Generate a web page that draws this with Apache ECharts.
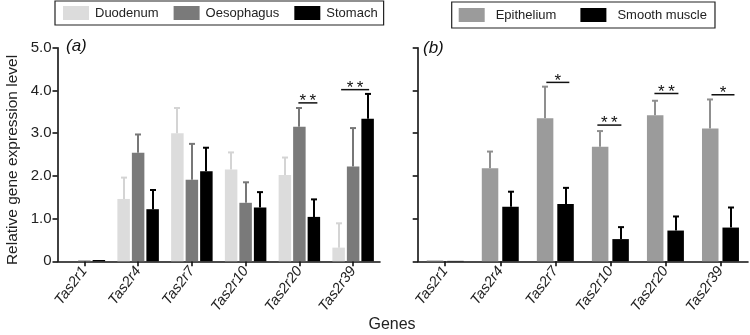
<!DOCTYPE html>
<html>
<head>
<meta charset="utf-8">
<script src="https://cdn.jsdelivr.net/npm/echarts@6/dist/echarts.min.js"></script>
<style>html,body{margin:0;padding:0;background:#fff;}#c{width:750px;height:335px;}</style>
</head>
<body>
<div id="c"></div>
<script>
// ---- data ----
const categories = ['Tas2r1', 'Tas2r4', 'Tas2r7', 'Tas2r10', 'Tas2r20', 'Tas2r39'];
const duodenum      = [0.00, 1.46, 3.00, 2.15, 2.02, 0.32];
const duodenumErr   = [0.00, 0.50, 0.59, 0.40, 0.41, 0.57];
const oesophagus    = [0.02, 2.54, 1.91, 1.37, 3.15, 2.22];
const oesophagusErr = [0.00, 0.43, 0.84, 0.48, 0.44, 0.90];
const stomach       = [0.03, 1.22, 2.11, 1.26, 1.04, 3.34];
const stomachErr    = [0.00, 0.45, 0.55, 0.36, 0.41, 0.58];
const epithelium    = [0.02, 2.18, 3.35, 2.68, 3.42, 3.11];
const epitheliumErr = [0.00, 0.39, 0.74, 0.37, 0.34, 0.68];
const smoothMuscle    = [0.01, 1.28, 1.34, 0.52, 0.72, 0.79];
const smoothMuscleErr = [0.00, 0.35, 0.38, 0.28, 0.33, 0.47];
const yTicks = [0, 1, 2, 3, 4, 5];
// significance annotations: category index, bracket level, mark
const sigA = [[4, 3.71, '**'], [5, 4.02, '**']];
const sigB = [[2, 4.19, '*'], [3, 3.19, '**'], [4, 3.93, '**'], [5, 3.90, '*']];

// ---- layout / styling ----
const sigSpanA = [[-1, 18], [-12, 16]];
const sigSpanB = [[-9, 14], [-13, 11], [-11, 13], [-9, 14]];
const FONT = 'Liberation Sans, Arial, sans-serif';
const chart = echarts.init(document.getElementById('c'), null, {renderer: 'canvas'});

function errSeries(name, vals, errs, gridIdx, idx, n, bw, gap, color) {
  const step = bw * (1 + gap);
  const off = (idx - (n - 1) / 2) * step;
  return {
    type: 'custom', name: name + '_err', xAxisIndex: gridIdx, yAxisIndex: gridIdx, z: 5,
    silent: true,
    data: vals.map((v, i) => [i, v, errs[i]]),
    renderItem: function (params, api) {
      const i = api.value(0), v = api.value(1), e = api.value(2);
      if (!(e > 0)) return null;
      const p0 = api.coord([i, v]);
      const p1 = api.coord([i, v + e]);
      const x = Math.round(p0[0] + off);
      return {
        type: 'group',
        children: [
          {type: 'line', shape: {x1: x, y1: p0[1], x2: x, y2: p1[1]}, style: {stroke: color, lineWidth: 2}},
          {type: 'line', shape: {x1: x - 3, y1: p1[1], x2: x + 3, y2: p1[1]}, style: {stroke: color, lineWidth: 2}}
        ]
      };
    }
  };
}

function sigSeries(list, spans, gridIdx) {
  return {
    type: 'custom', name: 'sig' + gridIdx, xAxisIndex: gridIdx, yAxisIndex: gridIdx, z: 6, silent: true,
    data: list.map(d => [d[0], d[1]]),
    renderItem: function (params, api) {
      const k = params.dataIndex;
      const p = api.coord([api.value(0), api.value(1)]);
      const s = spans[k];
      const x1 = p[0] + s[0], x2 = p[0] + s[1];
      return {
        type: 'group',
        children: [
          {type: 'line', shape: {x1: x1, y1: p[1], x2: x2, y2: p[1]}, style: {stroke: '#111', lineWidth: 1.5}},
          {type: 'text', style: {text: list[k][2].split('').join('\u2009'), x: (x1 + x2) / 2, y: p[1] + 7, align: 'center', verticalAlign: 'bottom',
            font: '17px ' + FONT, fill: '#111'}}
        ]
      };
    }
  };
}

const gridTop = 47.8, gridH = 213.5;
const axisLineStyle = {color: '#111', width: 1.6};

function yAxis(gridIdx, showLabels) {
  return {
    type: 'value', gridIndex: gridIdx, min: yTicks[0], max: yTicks[yTicks.length - 1], interval: 1,
    axisLine: {show: true, lineStyle: axisLineStyle},
    axisTick: {show: true, length: 5, lineStyle: {color: '#111', width: 1.6}},
    splitLine: {show: false},
    axisLabel: {show: showLabels, margin: 6, color: '#222', fontSize: 15, fontFamily: FONT,
      formatter: v => v === 0 ? '0' : v.toFixed(1)}
  };
}
function xAxis(gridIdx) {
  return {
    type: 'category', gridIndex: gridIdx, data: categories,
    axisLine: {show: true, lineStyle: axisLineStyle},
    axisTick: {show: true, alignWithLabel: true, length: 5, lineStyle: {color: '#111', width: 1.6}},
    axisLabel: {rotate: 53, margin: 7, color: '#222', fontSize: 14.5, fontStyle: 'italic', fontFamily: FONT, interval: 0}
  };
}

const bwA = 12.5, gapA = 0.16, bwB = 16.5, gapB = 0.24;
function bar(name, data, gridIdx, color, bw, gap) {
  return {type: 'bar', name: name, xAxisIndex: gridIdx, yAxisIndex: gridIdx, data: data,
    barWidth: bw, barGap: (gap * 100) + '%', itemStyle: {color: color}, silent: true, z: 3};
}

const colD = '#dcdcdc', colO = '#7a7a7a', colS = '#000000', colE = '#9b9b9b', colM = '#000000';

const option = {
  animation: false,
  backgroundColor: '#fff',
  textStyle: {fontFamily: FONT},
  grid: [
    {left: 57.5, top: gridTop, width: 322.5, height: gridH},
    {left: 417.7, top: gridTop, width: 330.3, height: gridH}
  ],
  xAxis: [xAxis(0), xAxis(1)],
  yAxis: [yAxis(0, true), yAxis(1, false)],
  legend: [
    {left: 55, top: 1, padding: [5, 6, 5, 8], itemWidth: 26, itemHeight: 14, itemGap: 15,
      borderColor: '#222', borderWidth: 1.2, icon: 'rect',
      textStyle: {fontSize: 13, color: '#222', fontFamily: FONT, padding: [0, 0, 0, 1]},
      data: ['Duodenum', 'Oesophagus', 'Stomach']},
    {left: 451.7, top: 2, padding: [6, 8, 6, 7], itemWidth: 26, itemHeight: 14, itemGap: 24,
      borderColor: '#222', borderWidth: 1.2, icon: 'rect',
      textStyle: {fontSize: 13, color: '#222', fontFamily: FONT, padding: [0, 0, 0, 6]},
      data: ['Epithelium', 'Smooth muscle']}
  ],
  graphic: [
    {type: 'text', left: 66, top: 38, style: {text: '(a)', font: 'italic 17px ' + FONT, fill: '#111'}},
    {type: 'text', left: 423, top: 40, style: {text: '(b)', font: 'italic 17px ' + FONT, fill: '#111'}},
    {type: 'text', x: 392, y: 325, style: {text: 'Genes', font: '16px ' + FONT, fill: '#222', align: 'center', verticalAlign: 'middle'}},
    {type: 'text', x: 13, y: 160, rotation: Math.PI / 2,
      style: {text: 'Relative gene expression level', font: '15.5px ' + FONT, fill: '#222', align: 'center', verticalAlign: 'middle'}}
  ],
  series: [
    bar('Duodenum', duodenum, 0, colD, bwA, gapA),
    bar('Oesophagus', oesophagus, 0, colO, bwA, gapA),
    bar('Stomach', stomach, 0, colS, bwA, gapA),
    errSeries('Duodenum', duodenum, duodenumErr, 0, 0, 3, bwA, gapA, '#d4d4d4'),
    errSeries('Oesophagus', oesophagus, oesophagusErr, 0, 1, 3, bwA, gapA, '#777777'),
    errSeries('Stomach', stomach, stomachErr, 0, 2, 3, bwA, gapA, '#000000'),
    bar('Epithelium', epithelium, 1, colE, bwB, gapB),
    bar('Smooth muscle', smoothMuscle, 1, colM, bwB, gapB),
    errSeries('Epithelium', epithelium, epitheliumErr, 1, 0, 2, bwB, gapB, '#8f8f8f'),
    errSeries('Smooth muscle', smoothMuscle, smoothMuscleErr, 1, 1, 2, bwB, gapB, '#000000'),
    sigSeries(sigA, sigSpanA, 0),
    sigSeries(sigB, sigSpanB, 1)
  ]
};
chart.setOption(option);
</script>
</body>
</html>
